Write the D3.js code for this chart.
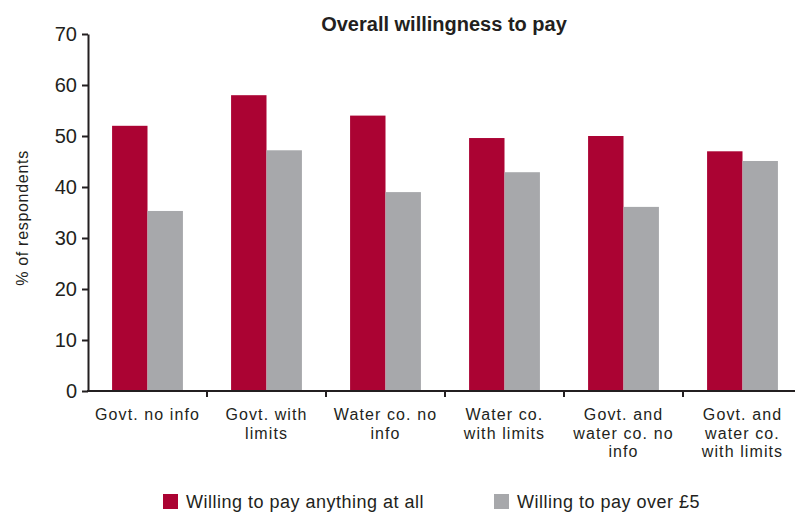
<!DOCTYPE html>
<html>
<head>
<meta charset="utf-8">
<script src="https://cdn.jsdelivr.net/npm/d3@7"></script>
<style>
  html, body { margin: 0; padding: 0; background: #fff; }
  svg text { font-family: "Liberation Sans", Arial, sans-serif; fill: #231f20; }
</style>
</head>
<body>
<svg id="chart" width="795" height="513"></svg>
<script>
// Survey scenarios and shares of respondents (%)
const categories = [
  ["Govt. no info"],
  ["Govt. with", "limits"],
  ["Water co. no", "info"],
  ["Water co.", "with limits"],
  ["Govt. and", "water co. no", "info"],
  ["Govt. and", "water co.", "with limits"]
];
const seriesNames = ["Willing to pay anything at all", "Willing to pay over £5"];
const payAnything = [52, 58, 54, 49.6, 50, 47];
const payOver5 = [35.3, 47.2, 39, 42.9, 36.1, 45.1];
const yTicks = [0, 10, 20, 30, 40, 50, 60, 70];
const colors = ["#ab0333", "#a7a8ab"];

const svg = d3.select("#chart");
const margin = { left: 88, top: 34, bottom: 391 };
const band = 119;

const x = d3.scaleBand()
  .domain(d3.range(categories.length))
  .range([margin.left, margin.left + band * categories.length])
  .paddingInner(0).paddingOuter(0);

const x1 = d3.scaleBand()
  .domain([0, 1])
  .range([0, x.bandwidth()])
  .paddingInner(0)
  .paddingOuter(0.68);

const y = d3.scaleLinear().domain([0, 70]).range([margin.bottom, margin.top]);

// Bars
const series = [payAnything, payOver5];
series.forEach((vals, s) => {
  svg.append("g").selectAll("rect")
    .data(vals)
    .join("rect")
    .attr("x", (d, i) => x(i) + x1(s))
    .attr("y", d => y(d))
    .attr("width", x1.bandwidth())
    .attr("height", d => y(0) - y(d))
    .attr("fill", colors[s]);
});

// Y axis
const yAxis = svg.append("g")
  .attr("transform", `translate(${margin.left},0)`)
  .call(d3.axisLeft(y).tickValues(yTicks).tickSize(6).tickPadding(5).tickSizeOuter(0));
yAxis.select(".domain").attr("stroke", "#231f20").attr("stroke-width", 2);
yAxis.selectAll(".tick line").attr("stroke", "#231f20").attr("stroke-width", 2);
yAxis.selectAll(".tick text")
  .attr("font-size", 20)
  .style("font-family", "'Liberation Sans', Arial, sans-serif")
  .attr("fill", "#231f20");

// X axis: baseline with ticks at category boundaries
svg.append("line")
  .attr("x1", margin.left - 1).attr("x2", 795)
  .attr("y1", y(0)).attr("y2", y(0))
  .attr("stroke", "#231f20").attr("stroke-width", 2);
svg.append("g").selectAll("line")
  .data(d3.range(1, categories.length))
  .join("line")
  .attr("x1", i => x(i)).attr("x2", i => x(i))
  .attr("y1", y(0)).attr("y2", y(0) + 6)
  .attr("stroke", "#231f20").attr("stroke-width", 2);

// Category labels, one text per line
const catGroups = svg.append("g").selectAll("g")
  .data(categories)
  .join("g")
  .attr("transform", (d, i) => `translate(${x(i) + x.bandwidth() / 2},420)`);
catGroups.selectAll("text")
  .data(d => d)
  .join("text")
  .attr("y", (d, i) => i * 18.5)
  .attr("text-anchor", "middle")
  .attr("font-size", 16)
  .attr("letter-spacing", 1.1)
  .text(d => d);

// Y axis title
svg.append("text")
  .attr("transform", "translate(28,218) rotate(-90)")
  .attr("text-anchor", "middle")
  .attr("font-size", 16)
  .attr("letter-spacing", 0.7)
  .text("% of respondents");

// Title
svg.append("text")
  .attr("x", 444).attr("y", 31)
  .attr("text-anchor", "middle")
  .attr("font-size", 20)
  .attr("font-weight", "bold")
  .text("Overall willingness to pay");

// Legend
const legendX = [163, 494];
const legend = svg.append("g").selectAll("g")
  .data(seriesNames)
  .join("g")
  .attr("transform", (d, i) => `translate(${legendX[i]},494)`);
legend.append("rect")
  .attr("width", 15).attr("height", 15)
  .attr("fill", (d, i) => colors[i]);
legend.append("text")
  .attr("x", 23).attr("y", 14)
  .attr("font-size", 18)
  .attr("letter-spacing", 0.5)
  .text(d => d);
</script>
</body>
</html>
